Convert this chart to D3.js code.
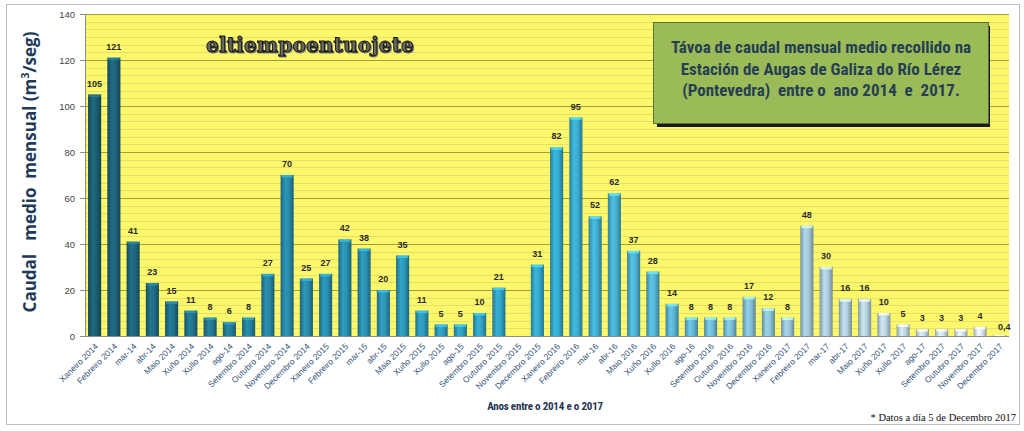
<!DOCTYPE html>
<html><head><meta charset="utf-8">
<script src="https://cdn.jsdelivr.net/npm/d3@7"></script>
<style>
body{margin:0;background:#fff;}
svg{display:block;}
</style></head>
<body>
<svg id="chart" width="1024" height="431"></svg>
<script>
const categories = ["Xaneiro 2014","Febreiro 2014","mar-14","abr-14","Maio 2014","Xuño 2014","Xullo 2014","ago-14","Setembro 2014","Outubro 2014","Novembro 2014","Decembro 2014",
"Xaneiro 2015","Febreiro 2015","mar-15","abr-15","Maio 2015","Xuño 2015","Xullo 2015","ago-15","Setembro 2015","Outubro 2015","Novembro 2015","Decembro 2015",
"Xaneiro 2016","Febreiro 2016","mar-16","abr-16","Maio 2016","Xuño 2016","Xullo 2016","ago-16","Setembro 2016","Outubro 2016","Novembro 2016","Decembro 2016",
"Xaneiro 2017","Febreiro 2017","mar-17","abr-17","Maio 2017","Xuño 2017","Xullo 2017","ago-17","Setembro 2017","Outubro 2017","Novembro 2017","Decembro 2017"];
const values = [105,121,41,23,15,11,8,6,8,27,70,25,
27,42,38,20,35,11,5,5,10,21,null,31,
82,95,52,62,37,28,14,8,8,8,17,12,
8,48,30,16,16,10,5,3,3,3,4,0.4];
const valueLabels = ["105","121","41","23","15","11","8","6","8","27","70","25",
"27","42","38","20","35","11","5","5","10","21","","31",
"82","95","52","62","37","28","14","8","8","8","17","12",
"8","48","30","16","16","10","5","3","3","3","4","0,4"];
const yTicks = [0,20,40,60,80,100,120,140];
const titleLines = ["Távoa de caudal mensual medio recollido na","Estación de Augas de Galiza do Río Lérez","(Pontevedra)  entre o  ano 2014  e  2017."];

const svg = d3.select("#chart");
const M = {left:85, right:1009, top:14, bottom:336};
const x = d3.scaleBand().domain(categories).range([M.left, M.right]).paddingInner(0.32).paddingOuter(0.16);
const y = d3.scaleLinear().domain([0,140]).range([M.bottom, M.top]);

// outer frame
svg.append("rect").attr("x",6.5).attr("y",4.5).attr("width",1013).attr("height",420)
  .attr("fill","#fff").attr("stroke","#bdbdbd");

// plot background
svg.append("rect").attr("x",M.left).attr("y",M.top).attr("width",M.right-M.left).attr("height",M.bottom-M.top)
  .attr("fill","#fcf86c");

// minor stripes
const minor = d3.range(0,140,20/6).filter(v=>Math.abs(v/20-Math.round(v/20))>0.01);
svg.append("g").selectAll("line").data(minor).join("line")
  .attr("x1",M.left).attr("x2",M.right).attr("y1",d=>Math.round(y(d))+0.5).attr("y2",d=>Math.round(y(d))+0.5)
  .attr("stroke","#e6dd6a").attr("stroke-width",1);
// major grid
svg.append("g").selectAll("line").data(yTicks.filter(d=>d>0)).join("line")
  .attr("x1",M.left).attr("x2",M.right).attr("y1",d=>Math.round(y(d))+0.5).attr("y2",d=>Math.round(y(d))+0.5)
  .attr("stroke","#a39f3c").attr("stroke-width",1);

// y axis
const yAxis = svg.append("g").attr("transform",`translate(${M.left},0)`)
  .call(d3.axisLeft(y).tickValues(yTicks).tickSize(5).tickPadding(5));
yAxis.select(".domain").attr("stroke","#8a8a8a");
yAxis.selectAll(".tick line").attr("stroke","#8a8a8a");
yAxis.selectAll("text").attr("font-family","Liberation Sans, Arial, sans-serif").attr("font-size",9.5).attr("fill","#444");

// bar colours
const colorScale = d3.scaleLinear()
  .domain([0,10,24,30,37,47])
  .range(["#1c5f74","#2789a8","#35a9cf","#5bb6d6","#a4c7d8","#e2ebf0"])
  .interpolate(d3.interpolateRgb);

const defs = svg.append("defs");
values.forEach((v,i)=>{
  const c = d3.color(colorScale(i));
  const g = defs.append("linearGradient").attr("id","bg"+i).attr("x1","0").attr("x2","1").attr("y1","0").attr("y2","0");
  g.append("stop").attr("offset","0%").attr("stop-color",c.darker(0.9));
  g.append("stop").attr("offset","35%").attr("stop-color",c.brighter(0.25));
  g.append("stop").attr("offset","65%").attr("stop-color",c);
  g.append("stop").attr("offset","100%").attr("stop-color",c.darker(1.1));
});

const data = categories.map((c,i)=>({c, v:values[i], l:valueLabels[i], i}));
const bars = svg.append("g");
bars.selectAll("rect.bar").data(data.filter(d=>d.v!=null)).join("rect").attr("class","bar")
  .attr("x",d=>x(d.c)).attr("width",x.bandwidth())
  .attr("y",d=>y(d.v)).attr("height",d=>y(0)-y(d.v))
  .attr("fill",d=>`url(#bg${d.i})`);
// top caps
bars.selectAll("rect.cap").data(data.filter(d=>d.v!=null)).join("rect").attr("class","cap")
  .attr("x",d=>x(d.c)+1).attr("width",x.bandwidth()-2)
  .attr("y",d=>y(d.v)).attr("height",2.5)
  .attr("fill",d=>d3.color(colorScale(d.i)).brighter(0.8)).attr("opacity",0.8);

// value labels
svg.append("g").selectAll("text").data(data.filter(d=>d.v!=null)).join("text")
  .attr("x",d=>x(d.c)+x.bandwidth()/2 + (d.i===47?5:0)).attr("y",d=>y(d.v)-(d.i===47?5:8))
  .attr("text-anchor","middle").attr("font-family","Liberation Sans, Arial, sans-serif")
  .attr("font-weight","bold").attr("font-size",9).attr("fill","#2a2a2a").text(d=>d.l);

// x axis line
svg.append("line").attr("x1",M.left).attr("x2",M.right).attr("y1",M.bottom+0.5).attr("y2",M.bottom+0.5).attr("stroke","#8a8a8a");

// x axis labels
const xAxis = svg.append("g").attr("transform",`translate(0,${M.bottom})`)
  .call(d3.axisBottom(x).tickSize(0).tickPadding(0));
xAxis.select(".domain").remove();
xAxis.selectAll("text")
  .attr("font-family","Liberation Sans, Arial, sans-serif").attr("font-size",8.5).attr("fill","#34557a")
  .attr("text-anchor","end").attr("dy",0).attr("y",0)
  .attr("transform","translate(4,11) rotate(-45)");

// x axis title
svg.append("text").attr("x",545).attr("y",410).attr("text-anchor","middle")
  .attr("font-family","Liberation Sans Narrow, Arial Narrow, Roboto Condensed, sans-serif")
  .attr("font-weight","bold").attr("font-size",11).attr("fill","#1f3350").attr("letter-spacing","-0.2")
  .text("Anos entre o 2014 e o 2017");

// y axis title
svg.append("text").attr("transform","translate(36,172) rotate(-90)").attr("text-anchor","middle")
  .attr("font-family","Open Sans, Liberation Sans, sans-serif").attr("font-weight","bold")
  .attr("font-size",17).attr("fill","#1f3a5a").attr("xml:space","preserve")
  .html("Caudal   medio  mensual (m<tspan baseline-shift=\"super\" font-size=\"11\">3</tspan>/seg)");

// footnote
svg.append("text").attr("x",1016).attr("y",421).attr("text-anchor","end")
  .attr("font-family","Liberation Serif, Times New Roman, serif").attr("font-size",10.5).attr("fill","#111")
  .text("* Datos a día 5 de Decembro 2017");

// watermark
svg.append("text").attr("x",310).attr("y",52).attr("text-anchor","middle")
  .attr("font-family","DejaVu Serif, serif").attr("font-weight","bold").attr("font-size",20)
  .attr("fill","#6a6a5a").attr("stroke","#111").attr("stroke-width",0.9).attr("letter-spacing","0.2")
  .style("filter","drop-shadow(1px 1px 0px #777)")
  .text("eltiempoentuojete");

// title box
svg.append("rect").attr("x",657).attr("y",26).attr("width",333).attr("height",101).attr("fill","#1a1a1a");
svg.append("rect").attr("x",653.5).attr("y",22.5).attr("width",335).attr("height",101)
  .attr("fill","#9bbb59").attr("stroke","#5b6e35").attr("stroke-width",1);
svg.append("g").selectAll("text").data(titleLines).join("text")
  .attr("x",821).attr("y",(d,i)=>53+i*21.5).attr("text-anchor","middle")
  .attr("font-family","Liberation Sans Narrow, Arial Narrow, Roboto Condensed, sans-serif")
  .attr("font-weight","bold").attr("font-size",17).attr("fill","#263f52").attr("xml:space","preserve")
  .text(d=>d);
</script>
</body></html>
